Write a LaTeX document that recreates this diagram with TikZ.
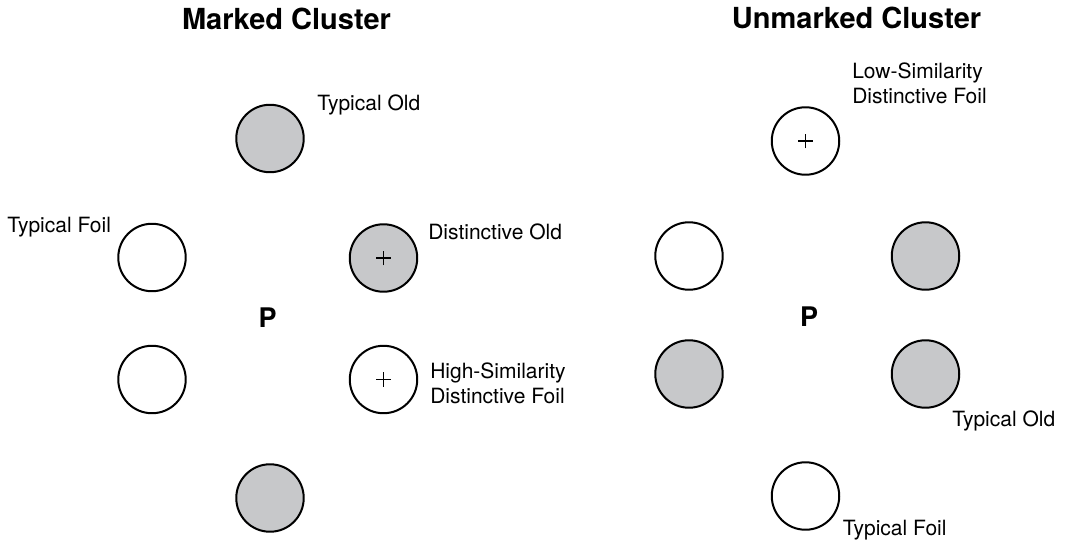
\documentclass[tikz,border=0pt]{standalone}
\usepackage{fontspec}
\setmainfont{TeX Gyre Heros}
\definecolor{oldgray}{HTML}{C7C8CA}
\begin{document}
\begin{tikzpicture}[x=0.75pt,y=-0.75pt,
    item/.style={circle,draw=black,line width=1.5pt,minimum size=50.6pt,inner sep=0pt,outer sep=0pt},
    old/.style={item,fill=oldgray},
    foil/.style={item,fill=white},
    cross/.style={path picture={
        \draw[line width=1.1pt] ([xshift=-5.5pt]path picture bounding box.center) -- ([xshift=5.5pt]path picture bounding box.center);
        \draw[line width=1.1pt] ([yshift=-5.5pt]path picture bounding box.center) -- ([yshift=5.5pt]path picture bounding box.center);}},
    lbl/.style={anchor=base west,inner sep=0pt,font=\fontsize{15.75pt}{18.75pt}\selectfont},
    ttl/.style={anchor=base,inner sep=0pt,font=\fontsize{21.75pt}{26pt}\selectfont\bfseries},
    pnt/.style={anchor=base,inner sep=0pt,font=\fontsize{20.25pt}{24pt}\selectfont\bfseries}]
    \useasboundingbox (0,0) rectangle (1069,543);
    % marked cluster
    \node[ttl] (mTitle) at (286.5,29) {Marked Cluster};
    \node[pnt] (mP) at (267.5,327) {P};
    \node[old] (mTop) at (270,138.5) {};
    \node[foil] (mUL) at (152,257.5) {};
    \node[old,cross] (mUR) at (383.5,258) {};
    \node[foil] (mLL) at (152,379.5) {};
    \node[foil,cross] (mLR) at (383.5,379.5) {};
    \node[old] (mBot) at (270,498) {};
    \node[lbl] (mTopLbl) at (317,110) {Typical Old};
    \node[lbl] (mULLbl) at (7,232) {Typical Foil};
    \node[lbl] (mURLbl) at (428,239) {Distinctive Old};
    \node[lbl,align=left] (mLRLbl) at (430,403) {High-Similarity\\Distinctive Foil};
    % unmarked cluster
    \node[ttl] (uTitle) at (856.5,28) {Unmarked Cluster};
    \node[pnt] (uP) at (809,326.7) {P};
    \node[foil,cross] (uTop) at (805.5,141) {};
    \node[foil] (uUL) at (689,256) {};
    \node[old] (uUR) at (925.5,256) {};
    \node[old] (uLL) at (689,374) {};
    \node[old] (uLR) at (925.5,374) {};
    \node[foil] (uBot) at (805.5,496) {};
    \node[lbl,align=left] (uTopLbl) at (852,103.3) {Low-Similarity\\Distinctive Foil};
    \node[lbl] (uLRLbl) at (952,426.7) {Typical Old};
    \node[lbl] (uBotLbl) at (842.6,535) {Typical Foil};
\end{tikzpicture}
\end{document}
